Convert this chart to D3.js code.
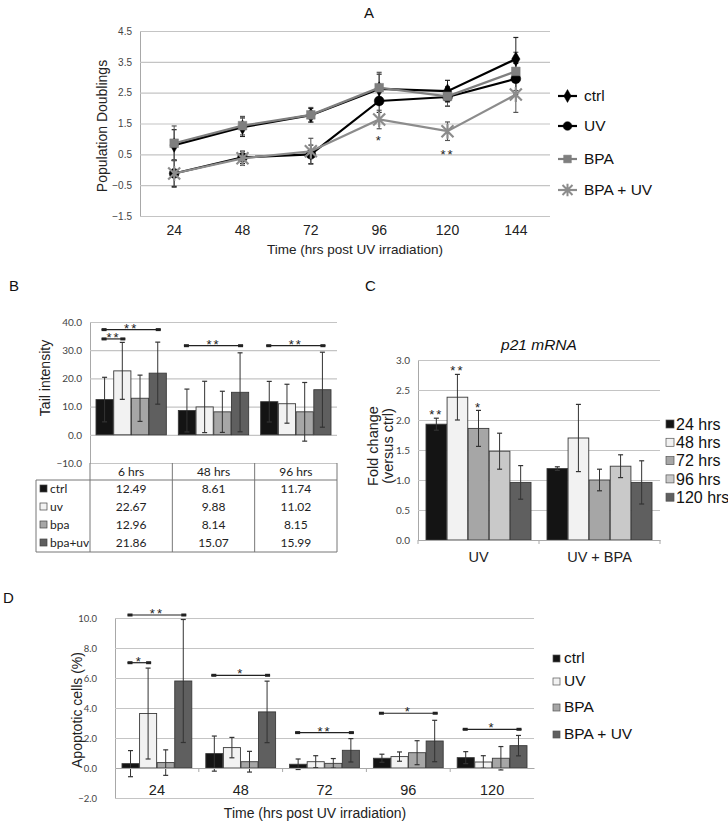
<!DOCTYPE html>
<html>
<head>
<meta charset="utf-8">
<script src="https://cdn.jsdelivr.net/npm/d3@7"></script>
<style>
  body { margin: 0; background: #fff; }
  svg { display: block; font-family: "Liberation Sans", Arial, sans-serif; }
</style>
</head>
<body>
<svg id="fig" width="728" height="822"></svg>
<script>
// ---------- Panel A: population doublings ----------
const timesA = ["24", "48", "72", "96", "120", "144"];
const seriesA = ["ctrl", "UV", "BPA", "BPA + UV"];
const ctrlA = [0.80, 1.38, 1.77, 2.62, 2.55, 3.59];
const ctrlErrA = [0.50, 0.30, 0.22, 0.48, 0.35, 0.70];
const uvA = [-0.12, 0.40, 0.50, 2.23, 2.36, 2.95];
const uvErrA = [0.42, 0.20, 0.30, 0.37, 0.30, 0.50];
const bpaA = [0.86, 1.43, 1.78, 2.66, 2.38, 3.19];
const bpaErrA = [0.56, 0.30, 0.24, 0.50, 0.32, 0.62];
const bpaUvA = [-0.12, 0.37, 0.60, 1.63, 1.25, 2.44];
const bpaUvErrA = [0.45, 0.23, 0.42, 0.30, 0.30, 0.58];
const starsA = [{ t: "96", v: 1.03, s: "*" }, { t: "120", v: 0.57, s: "**" }];

// ---------- Panel B: comet tail intensity ----------
const timesB = ["6 hrs", "48 hrs", "96 hrs"];
const groupsB = ["ctrl", "uv", "bpa", "bpa+uv"];
const ctrlB = [12.49, 8.61, 11.74];
const uvB = [22.67, 9.88, 11.02];
const bpaB = [12.96, 8.14, 8.15];
const bpaUvB = [21.86, 15.07, 15.99];
const ctrlErrB = [7.9, 7.6, 7.2];
const uvErrB = [10.1, 9.1, 6.9];
const bpaErrB = [8.2, 7.3, 10.4];
const bpaUvErrB = [11.0, 14.0, 13.3];
const bracketsB = [
  { c: "6 hrs", a: 0, b: 3, v: 37.3, s: "**" },
  { c: "6 hrs", a: 0, b: 1, v: 34.0, s: "**" },
  { c: "48 hrs", a: 0, b: 3, v: 31.6, s: "**" },
  { c: "96 hrs", a: 0, b: 3, v: 31.6, s: "**" }
];

// ---------- Panel C: p21 mRNA ----------
const treatC = ["UV", "UV + BPA"];
const hoursC = ["24 hrs", "48 hrs", "72 hrs", "96 hrs", "120 hrs"];
const h24C = [1.93, 1.19];
const h48C = [2.38, 1.70];
const h72C = [1.86, 1.00];
const h96C = [1.48, 1.23];
const h120C = [0.96, 0.96];
const h24ErrC = [0.10, 0.03];
const h48ErrC = [0.38, 0.56];
const h72ErrC = [0.30, 0.18];
const h96ErrC = [0.30, 0.19];
const h120ErrC = [0.28, 0.36];
const starsC = [
  { c: "UV", h: "24 hrs", v: 2.12, s: "**" },
  { c: "UV", h: "48 hrs", v: 2.85, s: "**" },
  { c: "UV", h: "72 hrs", v: 2.24, s: "*" }
];

// ---------- Panel D: apoptotic cells ----------
const timesD = ["24", "48", "72", "96", "120"];
const seriesD = ["ctrl", "UV", "BPA", "BPA + UV"];
const ctrlD = [0.29, 0.96, 0.25, 0.65, 0.69];
const uvD = [3.63, 1.36, 0.42, 0.76, 0.40];
const bpaD = [0.36, 0.42, 0.31, 1.02, 0.65];
const bpaUvD = [5.80, 3.74, 1.18, 1.80, 1.49];
const ctrlErrD = [0.87, 1.17, 0.35, 0.27, 0.40];
const uvErrD = [3.03, 0.68, 0.40, 0.31, 0.42];
const bpaErrD = [0.85, 0.69, 0.32, 0.80, 0.78];
const bpaUvErrD = [4.10, 2.05, 0.78, 1.38, 0.68];
const bracketsD = [
  { c: "24", a: 0, b: 1, v: 7.02, s: "*" },
  { c: "24", a: 0, b: 3, v: 10.2, s: "**" },
  { c: "48", a: 0, b: 3, v: 6.18, s: "*" },
  { c: "72", a: 0, b: 3, v: 2.36, s: "**" },
  { c: "96", a: 0, b: 3, v: 3.65, s: "*" },
  { c: "120", a: 0, b: 3, v: 2.58, s: "*" }
];

const fills4 = ["#141414", "#f2f2f2", "#a6a6a6", "#5f5f5f"];
const fills5 = ["#141414", "#f2f2f2", "#a6a6a6", "#c9c9c9", "#5f5f5f"];
const tickFont = "Lato, 'Liberation Sans', sans-serif";

const svg = d3.select("#fig");

function letter(t, x, y) {
  svg.append("text").attr("x", x).attr("y", y).attr("font-size", 15).attr("fill", "#111").text(t);
}

function yGrid(g, y, x0, width, ticks, fmt, pad) {
  g.append("g")
    .attr("transform", `translate(${x0},0)`)
    .call(d3.axisLeft(y).tickValues(ticks).tickSizeInner(-width).tickSizeOuter(0).tickPadding(pad).tickFormat(fmt))
    .call(a => a.select(".domain").attr("stroke", "#a8a8a8"))
    .call(a => a.selectAll(".tick line").attr("stroke", "#c4c4c4").attr("stroke-width", 1.2))
    .call(a => a.selectAll(".tick text").attr("font-size", 10).attr("fill", "#444").attr("font-family", tickFont));
}

function errBar(g, x, y, v, e, cap, color) {
  g.append("line").attr("x1", x).attr("x2", x).attr("y1", y(v - e)).attr("y2", y(v + e))
    .attr("stroke", color).attr("stroke-width", 1);
  [v - e, v + e].forEach(k => {
    g.append("line").attr("x1", x - cap).attr("x2", x + cap).attr("y1", y(k)).attr("y2", y(k))
      .attr("stroke", color).attr("stroke-width", 1.2);
  });
}

function drawBars(g, xO, xI, y, names, vals, errs, fills) {
  names.forEach((n, i) => {
    const rows = xO.domain().map((c, j) => ({ c, v: vals[i][j] }));
    g.selectAll(null).data(rows).enter().append("rect")
      .attr("x", d => xO(d.c) + xI(n))
      .attr("width", xI.bandwidth())
      .attr("y", d => y(Math.max(0, d.v)))
      .attr("height", d => Math.abs(y(0) - y(d.v)))
      .attr("fill", fills[i])
      .attr("stroke", "#3a3a3a")
      .attr("stroke-width", 0.9);
  });
  names.forEach((n, i) => {
    xO.domain().forEach((c, j) => {
      errBar(g, xO(c) + xI(n) + xI.bandwidth() / 2, y, vals[i][j], errs[i][j], 2.5, "#333");
    });
  });
}

function bracket(g, x1, x2, yy, s) {
  g.append("line").attr("x1", x1).attr("x2", x2).attr("y1", yy).attr("y2", yy)
    .attr("stroke", "#222").attr("stroke-width", 1.2);
  [x1, x2 - 5].forEach(x => {
    g.append("rect").attr("x", x).attr("y", yy - 1.5).attr("width", 5).attr("height", 3).attr("fill", "#222");
  });
  g.append("text").attr("x", (x1 + x2) / 2).attr("y", yy + 3).attr("text-anchor", "middle")
    .attr("font-size", 13).attr("letter-spacing", 2).attr("fill", "#222").text(s);
}

// ================= Panel A =================
letter("A", 364, 18);
const gA = svg.append("g");
const xA = d3.scaleBand().domain(timesA).range([140, 550]);
const yA = d3.scaleLinear().domain([-1.5, 4.5]).range([216, 31]);
yGrid(gA, yA, 140, 410, [-1.5, -0.5, 0.5, 1.5, 2.5, 3.5, 4.5], d3.format(".1f"), 8);
gA.selectAll(".tick text").attr("font-family", "'Liberation Sans', Arial, sans-serif").attr("font-size", 10);

gA.append("g").attr("transform", "translate(0,216)")
  .call(d3.axisBottom(xA).tickSize(0).tickPadding(9))
  .call(a => a.select(".domain").remove())
  .call(a => a.selectAll("text").attr("font-size", 14).attr("fill", "#222").attr("font-family", "'Liberation Sans', Arial, sans-serif"));

gA.append("text").attr("x", 355).attr("y", 254).attr("text-anchor", "middle").attr("font-size", 13.5)
  .attr("fill", "#222").text("Time (hrs post UV irradiation)");
gA.append("text").attr("transform", "translate(107,126) rotate(-90)").attr("text-anchor", "middle")
  .attr("font-size", 14).attr("fill", "#222").text("Population Doublings");

const cx = t => xA(t) + xA.bandwidth() / 2;
const starPath = r => `M${-r},${-r}L${r},${r}M${-r},${r}L${r},${-r}M0,${-r * 1.25}L0,${r * 1.25}`;
const styleA = [
  { vals: ctrlA, errs: ctrlErrA, color: "#000", err: "#222", sym: d3.symbolDiamond, size: 60 },
  { vals: uvA, errs: uvErrA, color: "#000", err: "#222", sym: d3.symbolCircle, size: 75 },
  { vals: bpaA, errs: bpaErrA, color: "#7f7f7f", err: "#555", sym: d3.symbolSquare, size: 75 },
  { vals: bpaUvA, errs: bpaUvErrA, color: "#8c8c8c", err: "#555", sym: null, size: 0 }
];
styleA.forEach(s => {
  timesA.forEach((t, j) => errBar(gA, cx(t), yA, s.vals[j], s.errs[j], 2.5, s.err));
});
const lineA = d3.line().x(d => cx(d.t)).y(d => yA(d.v));
styleA.forEach(s => {
  const pts = timesA.map((t, j) => ({ t, v: s.vals[j] }));
  gA.append("path").datum(pts).attr("fill", "none").attr("stroke", s.color).attr("stroke-width", 2.2).attr("d", lineA);
  gA.selectAll(null).data(pts).enter().append("path")
    .attr("transform", d => `translate(${cx(d.t)},${yA(d.v)})`)
    .attr("d", s.sym ? d3.symbol(s.sym, s.size)() : starPath(6))
    .attr("fill", s.sym ? s.color : "none")
    .attr("stroke", s.color)
    .attr("stroke-width", s.sym ? 0.5 : 2.2);
});
gA.selectAll(null).data(starsA).enter().append("text")
  .attr("x", d => cx(d.t)).attr("y", d => yA(d.v) + 7).attr("text-anchor", "middle")
  .attr("font-size", 13).attr("letter-spacing", 2).attr("fill", "#222").text(d => d.s);

// legend A
const legA = gA.selectAll(".legA").data(seriesA).enter().append("g")
  .attr("transform", (d, i) => `translate(558,${[96, 126, 159, 190][i]})`);
legA.append("line").attr("x1", 0).attr("x2", 19).attr("stroke", (d, i) => styleA[i].color).attr("stroke-width", 2.2);
legA.append("path").attr("transform", "translate(9.5,0)")
  .attr("d", (d, i) => styleA[i].sym ? d3.symbol(styleA[i].sym, styleA[i].size * 0.8)() : starPath(5))
  .attr("fill", (d, i) => styleA[i].sym ? styleA[i].color : "none")
  .attr("stroke", (d, i) => styleA[i].color)
  .attr("stroke-width", (d, i) => styleA[i].sym ? 0.5 : 2);
legA.append("text").attr("x", 26).attr("dy", "0.35em").attr("font-size", 15.5).attr("fill", "#111").text(d => d);

// ================= Panel B =================
letter("B", 9, 291);
const gB = svg.append("g");
const xB = d3.scaleBand().domain(timesB).range([90, 337]);
const xBin = d3.scaleBand().domain(groupsB).range([6, xB.bandwidth() - 6]).paddingInner(0.03);
const yB = d3.scaleLinear().domain([-10, 40]).range([463, 322]);
yGrid(gB, yB, 90, 247, [-10, 0, 10, 20, 30, 40], d3.format(".1f"), 8);
drawBars(gB, xB, xBin, yB, groupsB, [ctrlB, uvB, bpaB, bpaUvB], [ctrlErrB, uvErrB, bpaErrB, bpaUvErrB], fills4);
bracketsB.forEach(b => {
  const x1 = xB(b.c) + xBin(groupsB[b.a]) + xBin.bandwidth() / 2 - 3;
  const x2 = xB(b.c) + xBin(groupsB[b.b]) + xBin.bandwidth() / 2 + 3;
  bracket(gB, x1, x2, yB(b.v), b.s);
});
gB.append("text").attr("transform", "translate(50,378) rotate(-90)").attr("text-anchor", "middle")
  .attr("font-size", 14).attr("fill", "#222").text("Tail intensity");

// data table under panel B
const rowH = 18;
const tTop = yB(-10), tLeft = 36;
const tbl = gB.append("g").attr("font-family", tickFont).attr("fill", "#222");
tbl.append("line").attr("x1", tLeft).attr("x2", 337).attr("y1", tTop + 17).attr("y2", tTop + 17).attr("stroke", "#777");
tbl.append("line").attr("x1", tLeft).attr("x2", 337).attr("y1", tTop + 17 + rowH * 4).attr("y2", tTop + 17 + rowH * 4).attr("stroke", "#777");
tbl.append("line").attr("x1", tLeft).attr("x2", tLeft).attr("y1", tTop + 17).attr("y2", tTop + 17 + rowH * 4).attr("stroke", "#777");
[90, ...timesB.map(t => xB(t) + xB.bandwidth())].forEach(x => {
  tbl.append("line").attr("x1", x).attr("x2", x).attr("y1", tTop).attr("y2", tTop + 17 + rowH * 4).attr("stroke", "#777");
});
timesB.forEach(t => {
  tbl.append("text").attr("x", xB(t) + xB.bandwidth() / 2).attr("y", tTop + 9).attr("dy", "0.35em")
    .attr("text-anchor", "middle").attr("font-size", 12).text(t);
});
[ctrlB, uvB, bpaB, bpaUvB].forEach((vals, i) => {
  const yy = tTop + 17 + rowH * i + rowH / 2;
  tbl.append("rect").attr("x", 40).attr("y", yy - 4).attr("width", 7).attr("height", 7)
    .attr("fill", fills4[i]).attr("stroke", "#444").attr("stroke-width", 0.7);
  tbl.append("text").attr("x", 50).attr("y", yy).attr("dy", "0.35em").attr("font-size", 12).text(groupsB[i]);
  timesB.forEach((t, j) => {
    tbl.append("text").attr("x", xB(t) + xB.bandwidth() / 2).attr("y", yy).attr("dy", "0.35em")
      .attr("text-anchor", "middle").attr("font-size", 12).text(vals[j].toFixed(2));
  });
});

// ================= Panel C =================
letter("C", 365, 291);
const gC = svg.append("g");
const xC = d3.scaleBand().domain(treatC).range([418, 660]);
const xCin = d3.scaleBand().domain(hoursC).range([8, xC.bandwidth() - 8]).paddingInner(0.02);
const yC = d3.scaleLinear().domain([0, 3]).range([540, 360]);
yGrid(gC, yC, 418, 242, d3.range(0, 3.01, 0.5), d3.format(".1f"), 8);
drawBars(gC, xC, xCin, yC, hoursC, [h24C, h48C, h72C, h96C, h120C],
  [h24ErrC, h48ErrC, h72ErrC, h96ErrC, h120ErrC], fills5);
gC.append("g").attr("transform", `translate(0,${yC(0)})`)
  .call(d3.axisBottom(xC).tickSize(0).tickPadding(12))
  .call(a => a.select(".domain").attr("stroke", "#a8a8a8"))
  .call(a => a.selectAll("text").attr("font-size", 14.5).attr("fill", "#222").attr("font-family", "'Liberation Sans', Arial, sans-serif"));
[418, 539, 660].forEach(x => gC.append("line").attr("x1", x).attr("x2", x).attr("y1", yC(0)).attr("y2", yC(0) + 4).attr("stroke", "#a8a8a8"));
gC.selectAll(null).data(starsC).enter().append("text")
  .attr("x", d => xC(d.c) + xCin(d.h) + xCin.bandwidth() / 2).attr("y", d => yC(d.v) + 6)
  .attr("text-anchor", "middle").attr("font-size", 13).attr("letter-spacing", 2).attr("fill", "#222").text(d => d.s);
gC.append("text").attr("x", 539).attr("y", 350).attr("text-anchor", "middle").attr("font-size", 15.5)
  .attr("font-style", "italic").attr("fill", "#111").text("p21 mRNA");
gC.append("text").attr("transform", "translate(378,446) rotate(-90)").attr("text-anchor", "middle")
  .attr("font-size", 14.5).attr("fill", "#222").text("Fold change");
gC.append("text").attr("transform", "translate(393,446) rotate(-90)").attr("text-anchor", "middle")
  .attr("font-size", 14.5).attr("fill", "#222").text("(versus ctrl)");
const legC = gC.selectAll(".legC").data(hoursC).enter().append("g")
  .attr("transform", (d, i) => `translate(666,${424 + i * 18.3})`);
legC.append("rect").attr("x", 0).attr("y", -4).attr("width", 8).attr("height", 8)
  .attr("fill", (d, i) => fills5[i]).attr("stroke", "#555").attr("stroke-width", 0.7);
legC.append("text").attr("x", 10).attr("dy", "0.35em").attr("font-size", 16).attr("fill", "#111").text(d => d);

// ================= Panel D =================
letter("D", 3, 603);
const gD = svg.append("g");
const xD = d3.scaleBand().domain(timesD).range([115, 534]);
const xDin = d3.scaleBand().domain(seriesD).range([7, xD.bandwidth() - 7]).paddingInner(0.03);
const yD = d3.scaleLinear().domain([-2, 10]).range([798, 618]);
yGrid(gD, yD, 115, 419, d3.range(-2, 10.1, 2), d3.format(".1f"), 18);
gD.selectAll(".tick text").attr("font-size", 9.5);
drawBars(gD, xD, xDin, yD, seriesD, [ctrlD, uvD, bpaD, bpaUvD], [ctrlErrD, uvErrD, bpaErrD, bpaUvErrD], fills4);
gD.append("g").attr("transform", `translate(0,${yD(0)})`)
  .call(d3.axisBottom(xD).tickSize(0).tickPadding(17))
  .call(a => a.select(".domain").attr("stroke", "#a8a8a8"))
  .call(a => a.selectAll("text").attr("font-size", 14.5).attr("fill", "#222").attr("font-family", "'Liberation Sans', Arial, sans-serif"));
timesD.slice(1).forEach(t => gD.append("line").attr("x1", xD(t)).attr("x2", xD(t))
  .attr("y1", yD(0)).attr("y2", yD(0) + 4).attr("stroke", "#a8a8a8"));
bracketsD.forEach(b => {
  const x1 = xD(b.c) + xDin(seriesD[b.a]) + xDin.bandwidth() / 2 - 3;
  const x2 = xD(b.c) + xDin(seriesD[b.b]) + xDin.bandwidth() / 2 + 3;
  bracket(gD, x1, x2, yD(b.v), b.s);
});
gD.append("text").attr("x", 315).attr("y", 818).attr("text-anchor", "middle").attr("font-size", 14)
  .attr("fill", "#222").text("Time (hrs post UV irradiation)");
gD.append("text").attr("transform", "translate(82,710) rotate(-90)").attr("text-anchor", "middle")
  .attr("font-size", 14).attr("fill", "#222").text("Apoptotic cells (%)");
const legD = gD.selectAll(".legD").data(seriesD).enter().append("g")
  .attr("transform", (d, i) => `translate(553,${[658, 681, 707, 734][i]})`);
legD.append("rect").attr("x", 0).attr("y", -3).attr("width", 7).attr("height", 7)
  .attr("fill", (d, i) => fills4[i]).attr("stroke", "#555").attr("stroke-width", 0.7);
legD.append("text").attr("x", 11).attr("dy", "0.35em").attr("font-size", 15.5).attr("fill", "#111").text(d => d);
</script>
</body>
</html>
